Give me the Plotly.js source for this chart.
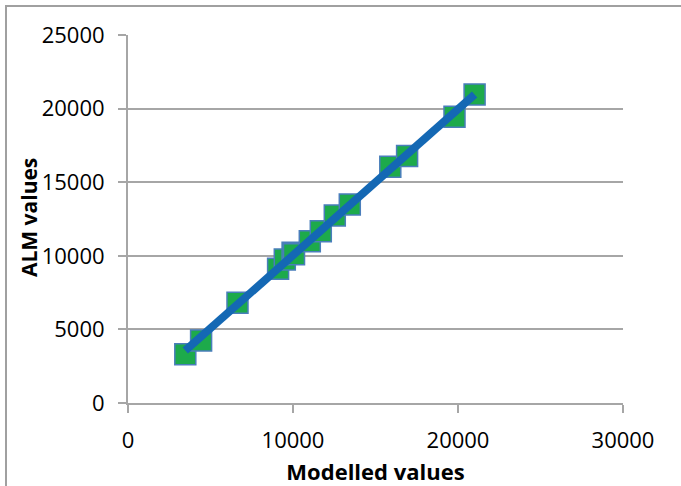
<!DOCTYPE html>
<html>
<head>
<meta charset="utf-8">
<script src="https://cdn.plot.ly/plotly-3.0.1.min.js"></script>
<style>
  html, body { margin: 0; padding: 0; background: #ffffff; }
  #chart { width: 681px; height: 486px; }
</style>
</head>
<body>
<div id="chart"></div>
<script>
// Data
const modelledValues = [3473, 4430, 6636, 9097, 9503, 9976, 10061, 11018, 11685, 12533, 13442, 15897, 16915, 19788, 21006];
const almValues      = [3308, 4246, 6807, 9117, 9749, 10204, 10102, 10992, 11671, 12738, 13485, 16053, 16780, 19450, 20958];
// Straight fitted line drawn through the points
const lineX = [3473, 21006];
const lineY = [3560, 20958];

const xTicks = [0, 10000, 20000, 30000];
const yTicks = [0, 5000, 10000, 15000, 20000, 25000];

const W = 681, H = 486;
const margin = {l: 128, r: 58, t: 35, b: 83};
const plotW = W - margin.l - margin.r;
const plotH = H - margin.t - margin.b;
const px = v => (v - margin.l) / plotW;
const py = v => (H - margin.b - v) / plotH;

const fontFamily = '"Open Sans", "Liberation Sans", sans-serif';
const tickFont = {family: fontFamily, size: 22, color: '#000000'};
const xTitleFont = {family: fontFamily, size: 22, color: '#000000', weight: 'bold'};
const yTitleFont = {family: fontFamily, size: 21, color: '#000000', weight: 'bold'};

const traces = [
  {
    x: modelledValues, y: almValues,
    type: 'scatter', mode: 'markers',
    marker: {symbol: 'square', size: 21, color: '#1DAA4B', line: {color: '#4A7EBB', width: 1.5}},
    hoverinfo: 'skip', showlegend: false
  },
  {
    x: lineX, y: lineY,
    type: 'scatter', mode: 'lines',
    line: {color: '#1468B4', width: 8},
    hoverinfo: 'skip', showlegend: false
  }
];

const layout = {
  width: W, height: H,
  margin: margin,
  paper_bgcolor: '#ffffff', plot_bgcolor: '#ffffff',
  showlegend: false,
  xaxis: {
    range: [0, 30000], tickvals: xTicks, ticktext: xTicks.map(String),
    showgrid: false, zeroline: false,
    showline: true, linecolor: '#A6A6A6', linewidth: 2,
    ticks: 'outside', ticklen: 8, tickwidth: 2, tickcolor: '#A6A6A6',
    ticklabelstandoff: 9,
    tickfont: tickFont, fixedrange: true, automargin: false,
    title: {text: 'Modelled values', font: xTitleFont, standoff: 12}
  },
  yaxis: {
    range: [0, 25000], tickvals: yTicks, ticktext: yTicks.map(String),
    showgrid: true, gridcolor: '#A6A6A6', gridwidth: 2, zeroline: false,
    showline: true, linecolor: '#A6A6A6', linewidth: 2,
    ticks: 'outside', ticklen: 8, tickwidth: 2, tickcolor: '#A6A6A6',
    ticklabelstandoff: 9,
    tickfont: tickFont, fixedrange: true, automargin: false
  },
  annotations: [
    {text: 'ALM values', xref: 'paper', yref: 'paper',
     x: px(29), y: py(218), xanchor: 'center', yanchor: 'middle',
     textangle: -90, showarrow: false, font: yTitleFont}
  ],
  shapes: [
    {type: 'rect', xref: 'paper', yref: 'paper',
     x0: px(6), x1: px(W + 10), y0: py(6), y1: py(H + 10),
     line: {color: '#A0A0A0', width: 2}, fillcolor: 'rgba(0,0,0,0)', layer: 'below'}
  ]
};

Plotly.newPlot('chart', traces, layout, {displayModeBar: false, staticPlot: true});
</script>
</body>
</html>
